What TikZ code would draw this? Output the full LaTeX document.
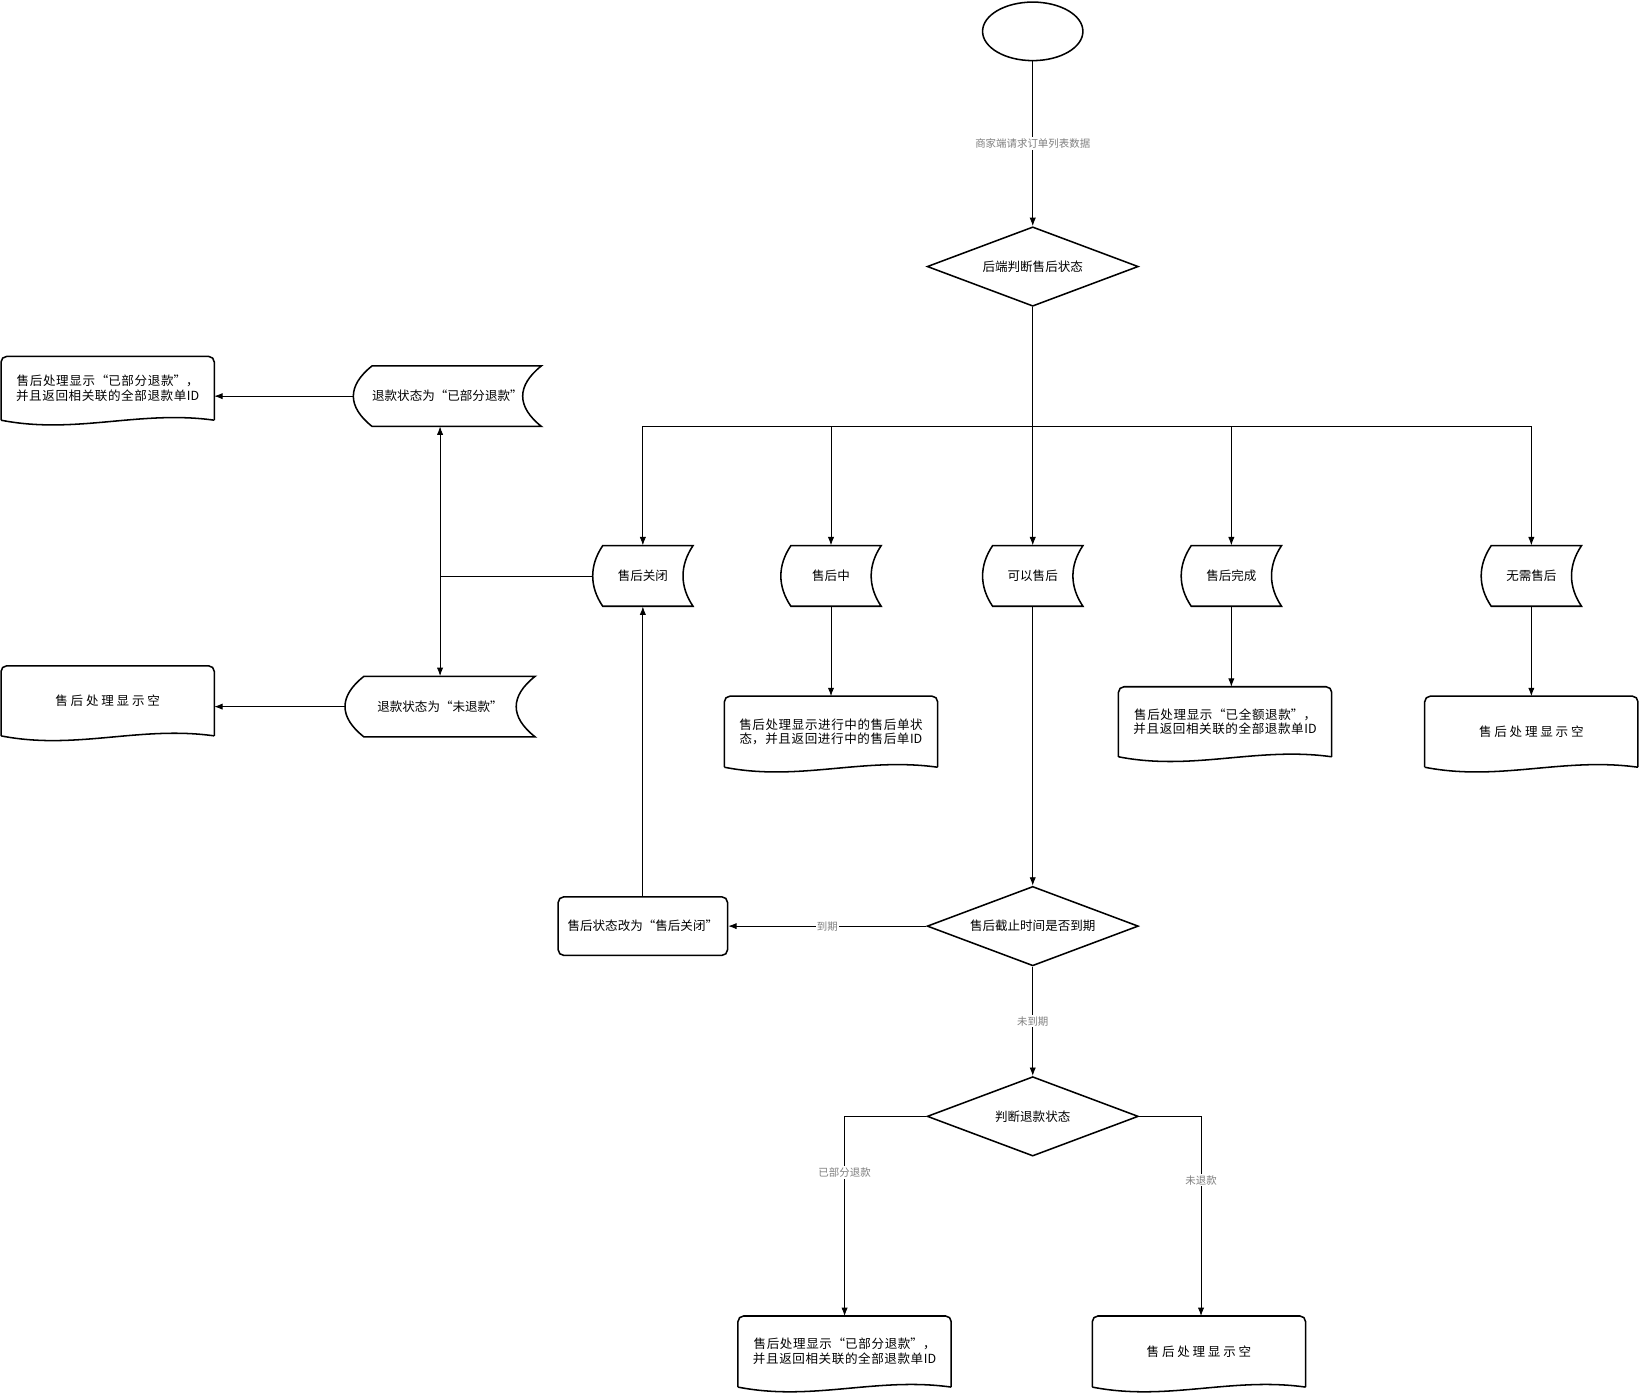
\documentclass[tikz,border=0pt]{standalone}
\usepackage{fontspec}
\setmainfont{Noto Sans CJK SC}
\XeTeXlinebreaklocale "zh"
\XeTeXlinebreakskip=0pt plus 1pt
\usetikzlibrary{shapes.geometric,arrows.meta,calc}
\tikzset{
  px/.style={x=0.75pt,y=-0.75pt},
  box/.style={inner sep=0pt,align=center,font=\fontsize{9}{10.5}\selectfont},
  shp/.style={draw=black,line width=1.1pt},
  arr/.style={draw=black,line width=0.6pt,-{Latex[length=6pt,width=4.5pt]}},
  ln/.style={draw=black,line width=0.6pt},
  lbl/.style={fill=white,inner sep=1pt,text=gray,font=\fontsize{7.5}{9}\selectfont},
  dia/.style={diamond,shp,aspect=2.66,inner sep=0pt,minimum width=151.5pt,minimum height=57pt,align=center,font=\fontsize{9}{10.5}\selectfont}
}
% data-storage shape: name, cx, cy, w, text
\newcommand\myDstor[5]{%
  \node[box,minimum width=#4*0.75pt,minimum height=43.5pt] (#1) at (#2,#3) {#5};
  \draw[shp] ({#2-#4/2+0.1*#4},{#3-29}) -- ({#2+#4/2},{#3-29})
    .. controls ({#2+#4/2-0.133*#4},{#3-10}) and ({#2+#4/2-0.133*#4},{#3+10}) .. ({#2+#4/2},{#3+29})
    -- ({#2-#4/2+0.1*#4},{#3+29})
    .. controls ({#2-#4/2-0.033*#4},{#3+10}) and ({#2-#4/2-0.033*#4},{#3-10}) .. cycle;}
% document shape: name, x0, y0, x1, y1, text
\newcommand\myDocu[6]{%
  \pgfmathsetmacro\myTW{(#4-#2-8)*0.75}%
  \node[box,text width=\myTW pt] (#1) at ({(#2+#4)/2},{(#3+#5)/2-4}) {#6};
  \draw[shp,rounded corners=4pt] ({#2},{#5-8}) -- (#2,#3) -- (#4,#3) -- (#4,{#5-8});
  \draw[shp] (#4,{#5-8}) .. controls ({#4-0.35*(#4-#2)},{#5-18}) and ({#2+0.35*(#4-#2)},{#5+6}) .. ({#2},{#5-8});}
\begin{document}
\begin{tikzpicture}[px]
\useasboundingbox (0,0) rectangle (1568,1337);
\node[ellipse,shp,minimum width=72pt,minimum height=42pt] (st) at (988,30) {};
\node[dia] (d1) at (988,255) {后端判断售后状态};
\node[dia] (d2) at (988,886) {售后截止时间是否到期};
\node[dia] (d3) at (988,1068) {判断退款状态};
\myDstor{n1}{615}{551}{96}{售后关闭}
\myDstor{n2}{795}{551}{96}{售后中}
\myDstor{n3}{988}{551}{96}{可以售后}
\myDstor{n4}{1178}{551}{96}{售后完成}
\myDstor{n5}{1465}{551}{96}{无需售后}
\myDstor{r1}{428}{379}{180}{退款状态为“已部分退款”}
\myDstor{r2}{421}{676}{182}{退款状态为“未退款”}
\myDocu{p1}{1}{341}{205}{410}{售后处理显示“已部分退款”，并且返回相关联的全部退款单ID}
\myDocu{p2}{1}{637}{205}{712}{售后处理显示空}
\myDocu{p3}{693}{666}{897}{742}{售后处理显示进行中的售后单状态，并且返回进行中的售后单ID}
\myDocu{p4}{1070}{657}{1274}{732}{售后处理显示“已全额退款”，并且返回相关联的全部退款单ID}
\myDocu{p5}{1363}{666}{1567}{742}{售后处理显示空}
\myDocu{p6}{706}{1259}{910}{1335}{售后处理显示“已部分退款”，并且返回相关联的全部退款单ID}
\myDocu{p7}{1045}{1259}{1249}{1335}{售后处理显示空}
\node[box,shp,rounded corners=4pt,minimum width=121.5pt,minimum height=42pt] (rc) at (615,886) {售后状态改为“售后关闭”};
% connectors
\draw[arr] (st) -- node[lbl,pos=0.5] {商家端请求订单列表数据} (d1);
\coordinate (br) at (988,408);
\draw[ln] (d1.south) -- (br);
\draw[arr] (br) -| (n1.north);
\draw[arr] (br) -| (n2.north);
\draw[arr] (br) -- (n3.north);
\draw[arr] (br) -| (n4.north);
\draw[arr] (br) -| (n5.north);
\coordinate (jv) at (421,551);
\draw[ln] (n1.west) -- (jv);
\draw[arr] (jv) -- (421,408);
\draw[arr] (jv) -- (r2.north);
\draw[arr] (r1.west) -- (205,379);
\draw[arr] (r2.west) -- (205,676);
\draw[arr] (n2.south) -- (795,666);
\draw[arr] (n4.south) -- (1178,657);
\draw[arr] (n5.south) -- (1465,666);
\draw[arr] (n3.south) -- (d2.north);
\draw[arr] (d2.west) -- node[lbl,pos=0.5] {到期} (rc.east);
\draw[arr] (rc.north) -- (n1.south);
\draw[arr] (d2.south) -- node[lbl,pos=0.5] {未到期} (d3.north);
\draw[arr] (d3.west) -| node[lbl,pos=0.64] {已部分退款} (808,1259);
\draw[arr] (d3.east) -| node[lbl,pos=0.66] {未退款} (1149,1259);
\end{tikzpicture}
\end{document}
